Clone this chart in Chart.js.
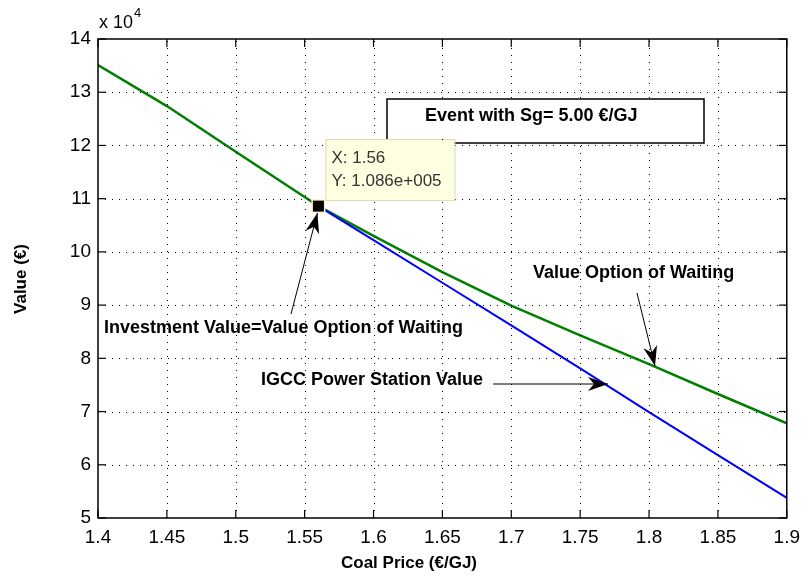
<!DOCTYPE html>
<html>
<head>
<meta charset="utf-8">
<script src="https://cdn.jsdelivr.net/npm/chart.js@4/dist/chart.umd.min.js"></script>
<style>
  body { margin: 0; background: #fff; }
  canvas { display: block; }
</style>
</head>
<body>
<canvas id="chart" width="808" height="579"></canvas>
<script>
// values (y in €)
const coalPrice = [1.4, 1.45, 1.5, 1.55, 1.56, 1.6, 1.65, 1.7, 1.75, 1.8, 1.85, 1.9];
const valueWaiting = [135100, 127400, 118800, 110300, 108600, 103000, 96200, 89900, 84300, 78900, 73300, 67800];
const igccPrice = [1.56, 1.6, 1.65, 1.7, 1.75, 1.8, 1.85, 1.9];
const igccValue = [108600, 102200, 94200, 86200, 78100, 69900, 61800, 53800];
const xRange = [1.4, 1.9];
const xStep = 0.05;
const yRange = [5, 14]; // x 10^4
const yStep = 1;
const tipX = 1.56;
const tipY = 108600;

const FONT = '"Liberation Sans", Arial, Helvetica, sans-serif';

function matlabExp(v) {
    // 1.086e+005 style
    let [m, e] = v.toExponential(3).split('e');
    let sign = e[0] === '-' ? '-' : '+';
    e = e.replace(/[+-]/, '').padStart(3, '0');
    return m + 'e' + sign + e;
}

function drawArrow(ctx, x0, y0, x1, y1, len, half) {
    ctx.beginPath();
    ctx.moveTo(x0, y0);
    ctx.lineTo(x1, y1);
    ctx.stroke();
    let ang = Math.atan2(y1 - y0, x1 - x0);
    let c = Math.cos(ang), s = Math.sin(ang);
    let bx = x1 - len * c, by = y1 - len * s;
    let nx = x1 - len * 0.7 * c, ny = y1 - len * 0.7 * s;
    ctx.beginPath();
    ctx.moveTo(x1, y1);
    ctx.lineTo(bx - half * s, by + half * c);
    ctx.lineTo(nx, ny);
    ctx.lineTo(bx + half * s, by - half * c);
    ctx.closePath();
    ctx.fill();
}

function seg(ctx, x0, y0, x1, y1) {
    ctx.beginPath();
    ctx.moveTo(x0, y0);
    ctx.lineTo(x1, y1);
    ctx.stroke();
}

const matlabLook = {
    id: 'matlabLook',
    afterDraw(chart) {
        const ctx = chart.ctx;
        const x = chart.scales.x, y = chart.scales.y;
        ctx.save();

        // exponent label
        ctx.fillStyle = '#000';
        ctx.textBaseline = 'middle';
        ctx.textAlign = 'left';
        ctx.font = '18px ' + FONT;
        ctx.fillText('x 10', 99, 23);
        ctx.font = '13px ' + FONT;
        ctx.fillText('4', 134, 13);

        // axis titles
        ctx.font = 'bold 17px ' + FONT;
        ctx.textAlign = 'center';
        ctx.fillText('Coal Price (€/GJ)', 409, 563);
        ctx.save();
        ctx.translate(21, 279);
        ctx.rotate(-Math.PI / 2);
        ctx.fillText('Value (€)', 0, 0);
        ctx.restore();

        // event box
        const evBox = [387, 99, 317, 44];
        ctx.fillStyle = '#fff';
        ctx.fillRect(evBox[0], evBox[1], evBox[2], evBox[3]);
        ctx.strokeStyle = '#000';
        ctx.lineWidth = 1.5;
        ctx.strokeRect(evBox[0], evBox[1], evBox[2], evBox[3]);
        ctx.fillStyle = '#000';
        ctx.textAlign = 'left';
        ctx.font = 'bold 18px ' + FONT;
        ctx.fillText('Event with Sg= 5.00 €/GJ', 425, 116);

        // data tip
        let mx = x.getPixelForValue(tipX), my = y.getPixelForValue(tipY);
        const tipBox = [mx + 7, my - 67, 129, 61];
        ctx.fillStyle = '#ffffe1';
        ctx.fillRect(tipBox[0], tipBox[1], tipBox[2], tipBox[3]);
        ctx.strokeStyle = '#dcd8b4';
        ctx.lineWidth = 1;
        ctx.strokeRect(tipBox[0] + 0.5, tipBox[1] + 0.5, tipBox[2], tipBox[3]);
        ctx.fillStyle = '#333';
        ctx.font = '17px ' + FONT;
        ctx.fillText('X: ' + tipX, mx + 13, my - 48);
        ctx.fillText('Y: ' + matlabExp(tipY), mx + 13, my - 25);
        ctx.fillStyle = '#fbf6c8';
        ctx.fillRect(mx - 7, my - 7, 14, 14);
        ctx.fillStyle = '#000';
        ctx.fillRect(mx - 5.5, my - 5.5, 11, 11);

        // text arrows
        ctx.font = 'bold 18px ' + FONT;
        ctx.fillText('Investment Value=Value Option of Waiting', 104, 328);
        ctx.fillText('Value Option of Waiting', 533, 273);
        ctx.fillText('IGCC Power Station Value', 261, 380);
        ctx.strokeStyle = '#000';
        ctx.lineWidth = 1;
        drawArrow(ctx, 291, 314, mx - 1, my + 7, 20, 7);
        drawArrow(ctx, 637, 293, 655, 366, 20, 7);
        drawArrow(ctx, 493, 384, 608, 384, 20, 7);

        // plot box taken from the scales themselves
        const L = x.getPixelForValue(xRange[0]);
        const R = x.getPixelForValue(xRange[1]);
        const T = y.getPixelForValue(yRange[1] * 1e4);
        const B = y.getPixelForValue(yRange[0] * 1e4);
        const xt = [], yt = [];
        for (let v = xRange[0]; v <= xRange[1] + 1e-9; v += xStep) xt.push(x.getPixelForValue(v));
        for (let v = yRange[0]; v <= yRange[1]; v += yStep) yt.push(y.getPixelForValue(v * 1e4));

        // dotted grid, kept out of the two boxes
        ctx.save();
        ctx.beginPath();
        ctx.rect(0, 0, chart.width, chart.height);
        ctx.rect(evBox[0], evBox[1], evBox[2], evBox[3]);
        ctx.rect(tipBox[0], tipBox[1], tipBox[2] + 1, tipBox[3] + 1);
        ctx.rect(mx - 7, my - 7, 14, 14);
        ctx.clip('evenodd');
        ctx.strokeStyle = '#000';
        ctx.lineWidth = 1;
        ctx.setLineDash([1, 6]);
        xt.forEach(px => {
            px = Math.round(px) + 0.5;
            if (px > L + 2 && px < R - 2) seg(ctx, px, B, px, T);
        });
        yt.forEach(py => {
            py = Math.round(py) + 0.5;
            if (py > T + 2 && py < B - 2) seg(ctx, L, py, R, py);
        });
        ctx.restore();

        // frame + inward ticks
        ctx.setLineDash([]);
        ctx.strokeStyle = '#000';
        ctx.lineWidth = 1.5;
        ctx.strokeRect(L, T, R - L, B - T);
        ctx.lineWidth = 1.2;
        xt.forEach(px => {
            seg(ctx, px, B, px, B - 8);
            seg(ctx, px, T, px, T + 8);
        });
        yt.forEach(py => {
            seg(ctx, L, py, L + 8, py);
            seg(ctx, R, py, R - 8, py);
        });

        ctx.restore();
    }
};

new Chart(document.getElementById('chart'), {
    type: 'line',
    data: {
        datasets: [{
            label: 'IGCC Power Station Value',
            data: igccPrice.map((p, i) => ({ x: p, y: igccValue[i] })),
            borderColor: '#0000ff',
            borderWidth: 2,
            pointRadius: 0,
            tension: 0
        }, {
            label: 'Value Option of Waiting',
            data: coalPrice.map((p, i) => ({ x: p, y: valueWaiting[i] })),
            borderColor: '#008000',
            borderWidth: 2.5,
            pointRadius: 0,
            tension: 0
        }]
    },
    options: {
        responsive: false,
        animation: false,
        layout: { padding: { top: 39, right: 14, left: 0, bottom: 0 } },
        plugins: { legend: { display: false }, tooltip: { enabled: false } },
        scales: {
            x: {
                type: 'linear',
                min: xRange[0],
                max: xRange[1],
                afterFit: s => { s.height = 61; },
                ticks: {
                    stepSize: xStep,
                    callback: v => String(+v.toFixed(2)),
                    color: '#000',
                    font: { family: FONT, size: 19 },
                    padding: 8,
                    maxRotation: 0,
                    autoSkip: false
                },
                grid: { display: false, drawTicks: false },
                border: { display: false }
            },
            y: {
                min: yRange[0] * 1e4,
                max: yRange[1] * 1e4,
                afterFit: s => { s.width = 98; },
                ticks: {
                    stepSize: yStep * 1e4,
                    callback: v => String(v / 1e4),
                    color: '#000',
                    font: { family: FONT, size: 19 },
                    padding: 7
                },
                grid: { display: false, drawTicks: false },
                border: { display: false }
            }
        }
    },
    plugins: [matlabLook]
});
</script>
</body>
</html>
